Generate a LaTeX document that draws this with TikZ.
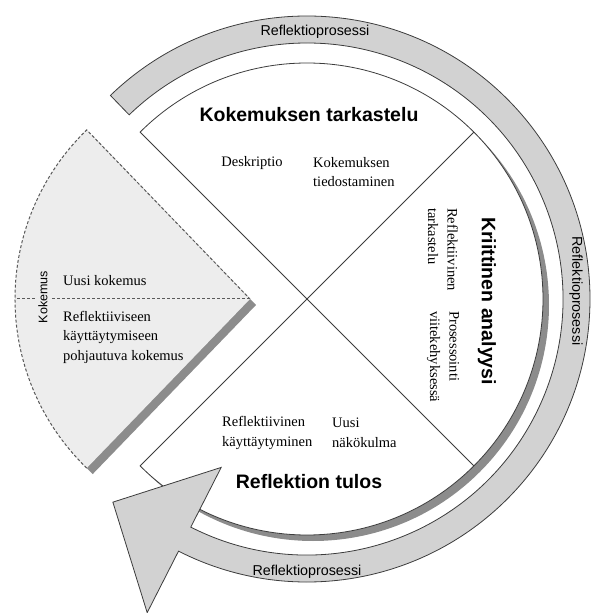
\documentclass[tikz,border=0pt]{standalone}
\usepackage{fontspec}
\usetikzlibrary{calc}
\setmainfont{Liberation Serif}
\setsansfont{Liberation Sans}
\newcommand{\pieradius}{236}
\newcommand{\wedgeradius}{235}
\newcommand{\ringinner}{256}
\newcommand{\ringouter}{283}
\newcommand{\ringstart}{134}
\newcommand{\ringend}{-117}
\newcommand{\HeadFont}{\sffamily\bfseries\fontsize{19.5}{23}\selectfont}
\newcommand{\RingFont}{\sffamily\fontsize{14.3}{17}\selectfont}
\newcommand{\BodyFont}{\fontsize{14.5}{19.5}\selectfont}
\definecolor{ringgray}{HTML}{D2D2D2}
\definecolor{shadowgray}{HTML}{8C8C8C}
\definecolor{wedgegray}{HTML}{EDEDED}
\definecolor{linegray}{HTML}{3C3C3C}

\begin{document}
\begin{tikzpicture}[x=1pt,y=1pt,
  outline/.style={draw=linegray,line width=0.8pt},
  wedgeline/.style={draw=linegray!85,line width=1pt,dash pattern=on 3pt off 2pt},
  headtext/.style={font=\HeadFont,inner sep=0pt},
  ringtext/.style={font=\RingFont,inner sep=0pt},
  bodytext/.style={font=\BodyFont,align=left,inner sep=0pt}]

\useasboundingbox (-307,-314) rectangle (284,299);

% Pie with three segments
\coordinate (O) at (0,0);
\coordinate (TR) at (45:\pieradius);
\coordinate (BR) at (-45:\pieradius);
\begin{scope}[shift={(6,-6)}]
\fill[shadowgray] (0,0) -- (-135:\pieradius) arc[start angle=-135,end angle=135,radius=\pieradius] -- cycle;
\end{scope}
\draw[outline,fill=white] (O) -- (-135:\pieradius) arc[start angle=-135,end angle=135,radius=\pieradius] -- cycle;
\draw[outline] (O) -- (TR);
\draw[outline] (O) -- (BR);

% Kokemus wedge
\coordinate (W) at (-57,0);
\coordinate (WL) at ($(W)+(-\wedgeradius,0)$);
\fill[shadowgray] ([shift={(6,-6)}]W) -- ++(226:\wedgeradius) arc[start angle=226,end angle=134,radius=\wedgeradius] -- cycle;
\fill[wedgegray] (W) -- ++(226:\wedgeradius) arc[start angle=226,end angle=134,radius=\wedgeradius] -- cycle;
\draw[wedgeline] (W) ++(226:\wedgeradius) arc[start angle=226,end angle=134,radius=\wedgeradius] -- (W);
\draw[wedgeline] (W) -- (WL);

% Reflektioprosessi ring arrow
\draw[outline,fill=ringgray] (\ringstart:\ringouter) arc[start angle=\ringstart,end angle=\ringend,radius=\ringouter]
  -- (\ringend:352) -- (226.3:281) -- (\ringend:189) -- (\ringend:\ringinner)
  arc[start angle=\ringend,end angle=\ringstart,radius=\ringinner] -- cycle;

% Ring labels
\node (ringtop) [ringtext] at (8,267) {Reflektioprosessi};
\node (ringright) [ringtext,rotate=-90] at (269,8) {Reflektioprosessi};
\node (ringbottom) [ringtext] at (0,-273) {Reflektioprosessi};

% Segment headings
\node (tarkastelu) [headtext] at (2,184) {Kokemuksen tarkastelu};
\node (analyysi) [headtext,rotate=-90] at (180,-2) {Kriittinen analyysi};
\node (tulos) [headtext] at (2,-183) {Reflektion tulos};

% Segment texts
\node (deskriptio) [bodytext] at (-55,136) {Deskriptio};
\node (tiedostaminen) [bodytext,anchor=west] at (6,127) {Kokemuksen\\tiedostaminen};
\node (reftarkastelu) [bodytext,anchor=west,rotate=-90] at (136,91) {Reflektiivinen\\tarkastelu};
\node (prosessointi) [bodytext,anchor=west,rotate=-90] at (136,-12) {Prosessointi\\viitekehyksessä};
\node (kayttaytyminen) [bodytext,anchor=west] at (-85,-134) {Reflektiivinen\\käyttäytyminen};
\node (nakokulma) [bodytext,anchor=west] at (25,-134) {Uusi\\näkökulma};

% Wedge texts
\node (kokemus) [ringtext,font=\sffamily\fontsize{12.5}{15}\selectfont,rotate=90,fill=wedgegray,inner sep=3pt] at (-264,2) {Kokemus};
\node (uusikokemus) [bodytext,anchor=west] at (-244,18) {Uusi kokemus};
\node (pohjautuva) [bodytext,anchor=west] at (-244,-38) {Reflektiiviseen\\käyttäytymiseen\\pohjautuva kokemus};

\end{tikzpicture}
\end{document}
